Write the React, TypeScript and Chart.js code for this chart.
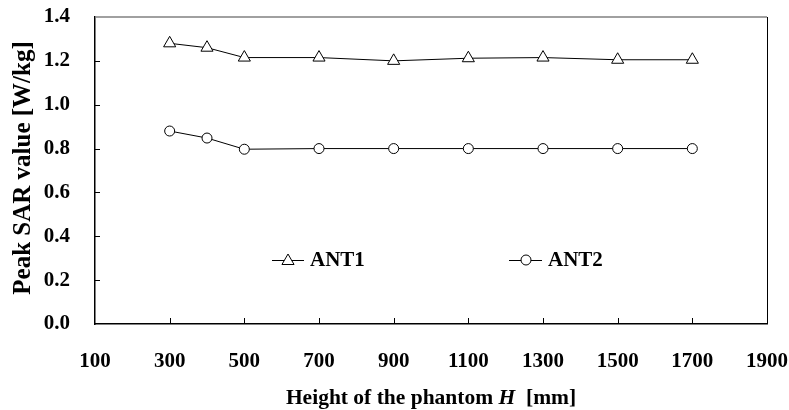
import React, { useEffect, useRef } from "react";
import { Chart, registerables } from "chart.js";

Chart.register(...registerables);

const heights = [300, 400, 500, 700, 900, 1100, 1300, 1500, 1700];
const ant1 = [1.28, 1.26, 1.215, 1.215, 1.2, 1.212, 1.215, 1.205, 1.205];
const ant2 = [0.88, 0.848, 0.797, 0.8, 0.8, 0.8, 0.8, 0.8, 0.8];
const seriesNames = ["ANT1", "ANT2"];
const xTitleParts = ["Height of the phantom ", "H", "  [mm]"];
const yTitle = "Peak SAR value [W/kg]";

const FONT = "'Liberation Serif', 'Times New Roman', serif";

function drawTriangle(ctx: CanvasRenderingContext2D, x: number, y: number, r: number) {
  ctx.beginPath();
  let rad = 0;
  ctx.moveTo(x + Math.sin(rad) * r, y - Math.cos(rad) * r);
  rad += (2 * Math.PI) / 3;
  ctx.lineTo(x + Math.sin(rad) * r, y - Math.cos(rad) * r);
  rad += (2 * Math.PI) / 3;
  ctx.lineTo(x + Math.sin(rad) * r, y - Math.cos(rad) * r);
  ctx.closePath();
  ctx.fillStyle = "#fff";
  ctx.fill();
  ctx.stroke();
}

function drawCircle(ctx: CanvasRenderingContext2D, x: number, y: number, r: number) {
  ctx.beginPath();
  ctx.arc(x, y, r, 0, Math.PI * 2);
  ctx.fillStyle = "#fff";
  ctx.fill();
  ctx.stroke();
}

const decorPlugin = {
  id: "decor",
  afterDraw(chart: any) {
    const ctx: CanvasRenderingContext2D = chart.ctx;
    const { left, right, top, bottom } = chart.chartArea;
    const xs = chart.scales.x;
    const ys = chart.scales.y;
    ctx.save();
    // top & right border
    ctx.strokeStyle = "#808080";
    ctx.lineWidth = 1.5;
    ctx.beginPath();
    ctx.moveTo(left, top);
    ctx.lineTo(right, top);
    ctx.stroke();
    ctx.strokeStyle = "#000";
    ctx.lineWidth = 1;
    ctx.beginPath();
    ctx.moveTo(right + 0.5, top);
    ctx.lineTo(right + 0.5, bottom);
    ctx.stroke();
    // inner ticks
    ctx.strokeStyle = "#000";
    ctx.lineWidth = 1;
    ctx.beginPath();
    xs.ticks.forEach((t: any) => {
      if (t.value <= xs.min || t.value >= xs.max) return;
      const px = Math.round(xs.getPixelForValue(t.value)) + 0.5;
      ctx.moveTo(px, bottom);
      ctx.lineTo(px, bottom - 6);
    });
    ys.ticks.forEach((t: any) => {
      if (t.value <= ys.min || t.value >= ys.max) return;
      const py = Math.round(ys.getPixelForValue(t.value)) + 0.5;
      ctx.moveTo(left, py);
      ctx.lineTo(left + 5, py);
    });
    ctx.stroke();

    // legend
    const ly = 260;
    ctx.strokeStyle = "#000";
    ctx.lineWidth = 1;
    ctx.beginPath();
    ctx.moveTo(272, ly + 0.5);
    ctx.lineTo(304, ly + 0.5);
    ctx.moveTo(509, ly + 0.5);
    ctx.lineTo(542, ly + 0.5);
    ctx.stroke();
    drawTriangle(ctx, 288, ly + 1, 7);
    drawCircle(ctx, 526, ly, 5);
    ctx.fillStyle = "#000";
    ctx.font = `bold 21px ${FONT}`;
    ctx.textBaseline = "middle";
    ctx.textAlign = "left";
    ctx.fillText(seriesNames[0], 310, ly + 1);
    ctx.fillText(seriesNames[1], 548, ly + 1);

    // x title with italic H
    const fontN = `bold 21.5px ${FONT}`;
    const fontI = `italic bold 21.5px ${FONT}`;
    ctx.font = fontN;
    const w0 = ctx.measureText(xTitleParts[0]).width;
    const w2 = ctx.measureText(xTitleParts[2]).width;
    ctx.font = fontI;
    const w1 = ctx.measureText(xTitleParts[1]).width;
    const total = w0 + w1 + w2;
    let x0 = (left + right) / 2 - total / 2;
    ctx.textBaseline = "alphabetic";
    ctx.font = fontN;
    ctx.fillText(xTitleParts[0], x0, 404);
    ctx.font = fontI;
    ctx.fillText(xTitleParts[1], x0 + w0, 404);
    ctx.font = fontN;
    ctx.fillText(xTitleParts[2], x0 + w0 + w1, 404);

    // y title
    ctx.save();
    ctx.translate(30, 168);
    ctx.rotate(-Math.PI / 2);
    ctx.textAlign = "center";
    ctx.textBaseline = "alphabetic";
    ctx.font = `bold 25px ${FONT}`;
    ctx.fillText(yTitle, 0, 0);
    ctx.restore();

    ctx.restore();
  },
};

export default function App() {
  const ref = useRef<HTMLCanvasElement | null>(null);
  useEffect(() => {
    if (!ref.current) return;
    const chart = new Chart(ref.current, {
      type: "line",
      data: {
        datasets: [
          {
            label: seriesNames[0],
            data: heights.map((h, i) => ({ x: h, y: ant1[i] })),
            borderColor: "#000",
            borderWidth: 1,
            pointStyle: "triangle",
            pointRadius: 7,
            pointBorderWidth: 1,
            pointBackgroundColor: "#fff",
            pointBorderColor: "#000",
            tension: 0,
          },
          {
            label: seriesNames[1],
            data: heights.map((h, i) => ({ x: h, y: ant2[i] })),
            borderColor: "#000",
            borderWidth: 1,
            pointStyle: "circle",
            pointRadius: 5,
            pointBorderWidth: 1,
            pointBackgroundColor: "#fff",
            pointBorderColor: "#000",
            tension: 0,
          },
        ],
      },
      options: {
        animation: false,
        responsive: false,
        layout: { padding: { top: 17, right: 22, left: 0, bottom: 0 } },
        plugins: { legend: { display: false }, tooltip: { enabled: false } },
        scales: {
          x: {
            type: "linear",
            min: 100,
            max: 1900,
            grid: { display: false, drawTicks: false },
            border: { display: true, color: "#000", width: 1.5 },
            ticks: {
              stepSize: 200,
              color: "#000",
              padding: 25,
              maxRotation: 0,
              autoSkip: false,
              callback: (v: any) => String(v),
              font: { family: FONT, size: 21, weight: "bold" },
            },
            afterFit: (s: any) => {
              s.height = 86;
              s.paddingLeft = 0;
              s.paddingRight = 0;
              s.paddingTop = 0;
              s.paddingBottom = 0;
            },
          },
          y: {
            min: 0,
            max: 1.4,
            grid: { display: false, drawTicks: false },
            border: { display: true, color: "#000", width: 1.5 },
            ticks: {
              stepSize: 0.2,
              color: "#000",
              padding: 25,
              callback: (v: any) => Number(v).toFixed(1),
              font: { family: FONT, size: 21, weight: "bold" },
            },
            afterFit: (s: any) => {
              s.width = 95;
              s.paddingLeft = 0;
              s.paddingRight = 0;
              s.paddingTop = 0;
              s.paddingBottom = 0;
            },
          },
        },
      },
      plugins: [decorPlugin],
    });
    return () => chart.destroy();
  }, []);
  return (
    <div style={{ position: "absolute", left: 0, top: 0, width: 789, height: 410, background: "#fff" }}>
      <canvas ref={ref} width={789} height={410} style={{ width: 789, height: 410 }} />
    </div>
  );
}
